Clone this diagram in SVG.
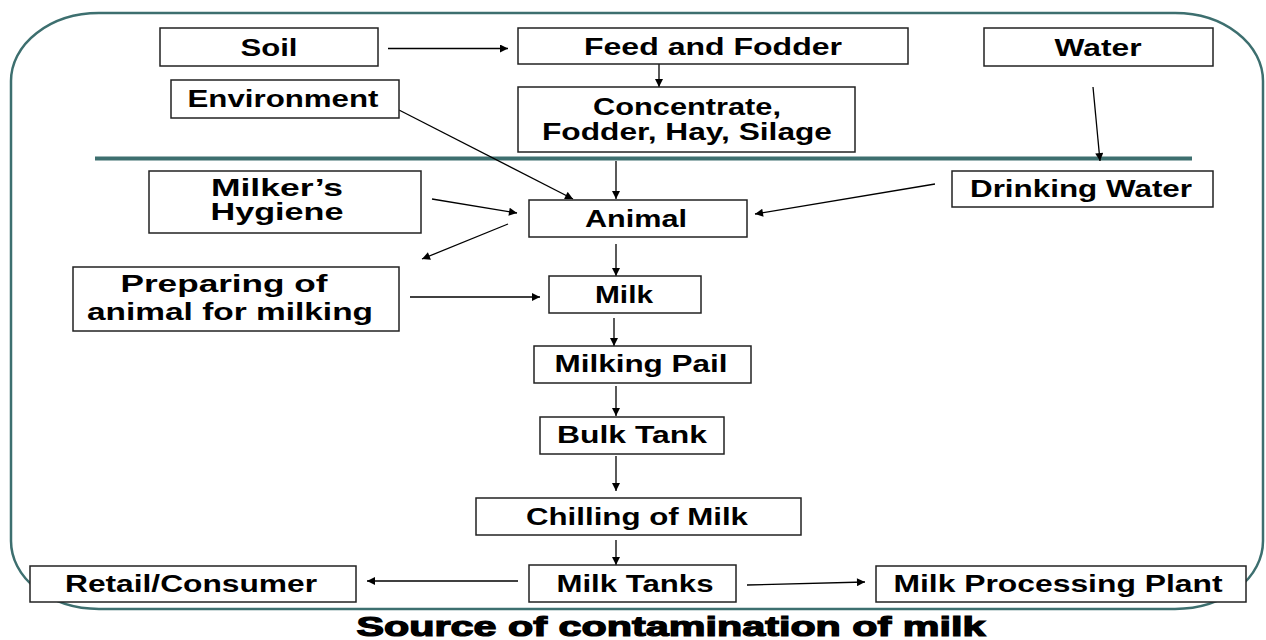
<svg xmlns="http://www.w3.org/2000/svg" width="1266" height="640" viewBox="0 0 1266 640">
<defs>
<marker id="ah" viewBox="0 0 10 10" refX="10" refY="5" markerWidth="9" markerHeight="8" markerUnits="userSpaceOnUse" orient="auto">
<path d="M0,0 L10,5 L0,10 z" fill="#000"/>
</marker>
<style>
.box{fill:#fff;stroke:#222;stroke-width:1.5}
.t{font-family:"Liberation Sans",Arial,sans-serif;font-weight:bold;font-size:23px;fill:#000;text-anchor:middle}
.c{stroke:#000;stroke-width:1.3;fill:none;marker-end:url(#ah)}
.title{font-family:"Liberation Sans",Arial,sans-serif;font-weight:bold;font-size:27px;fill:#000;stroke:#000;stroke-width:1.2;text-anchor:middle}
</style>
</defs>
<rect width="1266" height="640" fill="#fff"/>
<rect x="11" y="13" width="1252" height="596" rx="88" ry="68" fill="none" stroke="#3d6f6f" stroke-width="2.5"/>
<line x1="95" y1="158.5" x2="1192" y2="158.5" stroke="#3d6f6f" stroke-width="4"/>

<g id="connectors">
<line class="c" x1="388" y1="48.5" x2="508" y2="48.5"/>
<line class="c" x1="659" y1="64" x2="659" y2="87"/>
<line class="c" x1="399" y1="110" x2="573" y2="199"/>
<line class="c" x1="616" y1="161" x2="616" y2="199"/>
<line class="c" x1="1093" y1="87" x2="1100" y2="161"/>
<line class="c" x1="432" y1="199" x2="517" y2="213"/>
<line class="c" x1="508" y1="224" x2="422" y2="259"/>
<line class="c" x1="935" y1="184" x2="755" y2="214"/>
<line class="c" x1="616" y1="244" x2="616" y2="276"/>
<line class="c" x1="410" y1="297" x2="540" y2="297"/>
<line class="c" x1="614" y1="318" x2="614" y2="346"/>
<line class="c" x1="616" y1="386" x2="616" y2="416"/>
<line class="c" x1="616" y1="456" x2="616" y2="491"/>
<line class="c" x1="616" y1="540" x2="616" y2="565"/>
<line class="c" x1="518" y1="581" x2="367" y2="581"/>
<line class="c" x1="747" y1="585" x2="865" y2="582"/>
</g>

<g id="soil"><rect class="box" x="160" y="28" width="218" height="38"/><text class="t" x="269" y="56" textLength="57" lengthAdjust="spacingAndGlyphs">Soil</text></g>
<g id="environment"><rect class="box" x="171" y="80" width="228" height="38"/><text class="t" x="283" y="107" textLength="191" lengthAdjust="spacingAndGlyphs">Environment</text></g>
<g id="feed"><rect class="box" x="518" y="28" width="390" height="36"/><text class="t" x="713" y="55" textLength="258" lengthAdjust="spacingAndGlyphs">Feed and Fodder</text></g>
<g id="concentrate"><rect class="box" x="518" y="87" width="337" height="65"/><text class="t" x="687" y="115" textLength="188" lengthAdjust="spacingAndGlyphs">Concentrate,</text><text class="t" x="687" y="140" textLength="290" lengthAdjust="spacingAndGlyphs">Fodder, Hay, Silage</text></g>
<g id="water"><rect class="box" x="984" y="28" width="229" height="38"/><text class="t" x="1098" y="56" textLength="87" lengthAdjust="spacingAndGlyphs">Water</text></g>
<g id="drinking-water"><rect class="box" x="952" y="171" width="261" height="36"/><text class="t" x="1081" y="197" textLength="222" lengthAdjust="spacingAndGlyphs">Drinking Water</text></g>
<g id="milker"><rect class="box" x="149" y="171" width="272" height="62"/><text class="t" x="277" y="196" textLength="132" lengthAdjust="spacingAndGlyphs">Milker’s</text><text class="t" x="277" y="220" textLength="133" lengthAdjust="spacingAndGlyphs">Hygiene</text></g>
<g id="preparing"><rect class="box" x="73" y="267" width="326" height="64"/><text class="t" x="224" y="292" textLength="207" lengthAdjust="spacingAndGlyphs">Preparing of</text><text class="t" x="230" y="320" textLength="286" lengthAdjust="spacingAndGlyphs">animal for milking</text></g>
<g id="animal"><rect class="box" x="529" y="200" width="218" height="37"/><text class="t" x="636" y="227" textLength="102" lengthAdjust="spacingAndGlyphs">Animal</text></g>
<g id="milk"><rect class="box" x="549" y="276" width="152" height="37"/><text class="t" x="624" y="303" textLength="58" lengthAdjust="spacingAndGlyphs">Milk</text></g>
<g id="milking-pail"><rect class="box" x="534" y="346" width="217" height="37"/><text class="t" x="641" y="372" textLength="173" lengthAdjust="spacingAndGlyphs">Milking Pail</text></g>
<g id="bulk-tank"><rect class="box" x="540" y="417" width="184" height="37"/><text class="t" x="632" y="443" textLength="150" lengthAdjust="spacingAndGlyphs">Bulk Tank</text></g>
<g id="chilling"><rect class="box" x="476" y="498" width="325" height="37"/><text class="t" x="637" y="525" textLength="222" lengthAdjust="spacingAndGlyphs">Chilling of Milk</text></g>
<g id="milk-tanks"><rect class="box" x="529" y="565" width="207" height="37"/><text class="t" x="635" y="592" textLength="157" lengthAdjust="spacingAndGlyphs">Milk Tanks</text></g>
<g id="retail"><rect class="box" x="30" y="566" width="326" height="36"/><text class="t" x="191" y="592" textLength="252" lengthAdjust="spacingAndGlyphs">Retail/Consumer</text></g>
<g id="processing"><rect class="box" x="876" y="566" width="370" height="36"/><text class="t" x="1058" y="592" textLength="329" lengthAdjust="spacingAndGlyphs">Milk Processing Plant</text></g>

<text class="title" x="671" y="636" textLength="629" lengthAdjust="spacingAndGlyphs">Source of contamination of milk</text>
</svg>
